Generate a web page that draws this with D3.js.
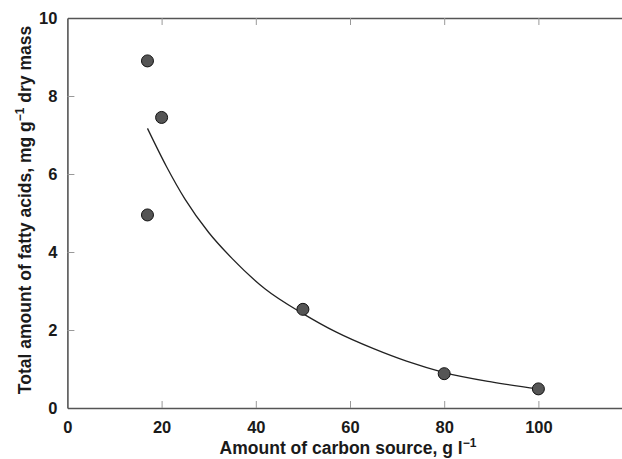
<!DOCTYPE html>
<html lang="en">
  <head>
  <meta charset="utf-8"/>
    <script type="text/javascript" src="https://cdnjs.cloudflare.com/ajax/libs/d3/7.8.5/d3.min.js"></script>
    <style>
      body { margin: 0; background: #fff; }
      text { font-family: "Liberation Sans", Arial, sans-serif; font-weight: bold; fill: #1a1a1a; }
    </style>
  </head>
  <body>
<svg class="fillmeup"></svg>
    <script type="text/javascript">

// measured points
var carbon = [17, 20, 17, 50, 80, 100];
var fattyAcids = [8.9, 7.45, 4.95, 2.53, 0.88, 0.49];
// fitted curve
var curveX = [17, 21, 25, 30, 35, 42, 50, 57, 65, 72, 80, 90, 100];
var curveY = [7.17, 6.2, 5.35, 4.5, 3.83, 3.05, 2.42, 1.95, 1.52, 1.2, 0.91, 0.67, 0.49];
var xTicks = [0, 20, 40, 60, 80, 100];
var yTicks = [0, 2, 4, 6, 8, 10];

var width = 622, height = 459;
var plotLeft = 67.4, plotTop = 18, plotBottom = 408;

var x = d3.scaleLinear().domain([0, 120]).range([plotLeft, plotLeft + 120 * 4.71]);
var y = d3.scaleLinear().domain([0, 10]).range([plotBottom, plotTop]);

var chart = d3.select('.fillmeup')
  .attr('width', width)
  .attr('height', height);

// axes - ticks point inward
var xAxis = chart.append('g')
  .attr('transform', 'translate(0,' + plotBottom + ')')
  .call(d3.axisBottom(x).tickValues(xTicks).tickSizeInner(-7).tickSizeOuter(0).tickPadding(13));
var xTop = chart.append('g')
  .attr('transform', 'translate(0,' + plotTop + ')')
  .call(d3.axisTop(x).tickValues(xTicks).tickSizeInner(-7).tickSizeOuter(0).tickFormat(''));
var yAxis = chart.append('g')
  .attr('transform', 'translate(' + plotLeft + ',0)')
  .call(d3.axisLeft(y).tickValues(yTicks).tickSizeInner(-7).tickSizeOuter(0).tickPadding(10));

[xAxis, xTop, yAxis].forEach(function(g) {
  g.select('.domain').attr('stroke', '#555').attr('stroke-width', 1.6);
  g.selectAll('.tick line').attr('stroke', '#999').attr('stroke-width', 1);
  g.selectAll('.tick text').style('font-size', '16.5px').attr('fill', '#111');
});
// hide the 0 tick marks that sit on the other axis
xAxis.selectAll('.tick').filter(function(d) { return d === 0; }).select('line').remove();
xTop.selectAll('.tick').filter(function(d) { return d === 0; }).select('line').remove();
yAxis.selectAll('.tick').filter(function(d) { return d === 0 || d === 10; }).select('line').remove();

// fitted curve
var line = d3.line()
  .x(function(d) { return x(d[0]); })
  .y(function(d) { return y(d[1]); })
  .curve(d3.curveMonotoneX);
chart.append('path')
  .datum(d3.zip(curveX, curveY))
  .attr('d', line)
  .attr('fill', 'none')
  .attr('stroke', '#222')
  .attr('stroke-width', 1.3);

// points
chart.selectAll('circle')
  .data(d3.zip(carbon, fattyAcids))
  .enter()
  .append('circle')
  .attr('cx', function(d) { return x(d[0]); })
  .attr('cy', function(d) { return y(d[1]); })
  .attr('r', 6)
  .attr('fill', '#555')
  .attr('stroke', '#111')
  .attr('stroke-width', 1);

// axis titles
var xt = chart.append('text')
  .attr('x', 348)
  .attr('y', 454)
  .attr('text-anchor', 'middle')
  .style('font-size', '17.5px');
xt.append('tspan').text('Amount of carbon source, g l');
xt.append('tspan').attr('dy', -7).style('font-size', '12px').text('\u22121');

var yt = chart.append('text')
  .attr('transform', 'translate(31,210) rotate(-90)')
  .attr('text-anchor', 'middle')
  .style('font-size', '17.5px');
yt.append('tspan').text('Total amount of fatty acids, mg g');
yt.append('tspan').attr('dy', -7).style('font-size', '12px').text('\u22121');
yt.append('tspan').attr('dy', 7).text(' dry mass');

    </script>
  </body>
</html>
